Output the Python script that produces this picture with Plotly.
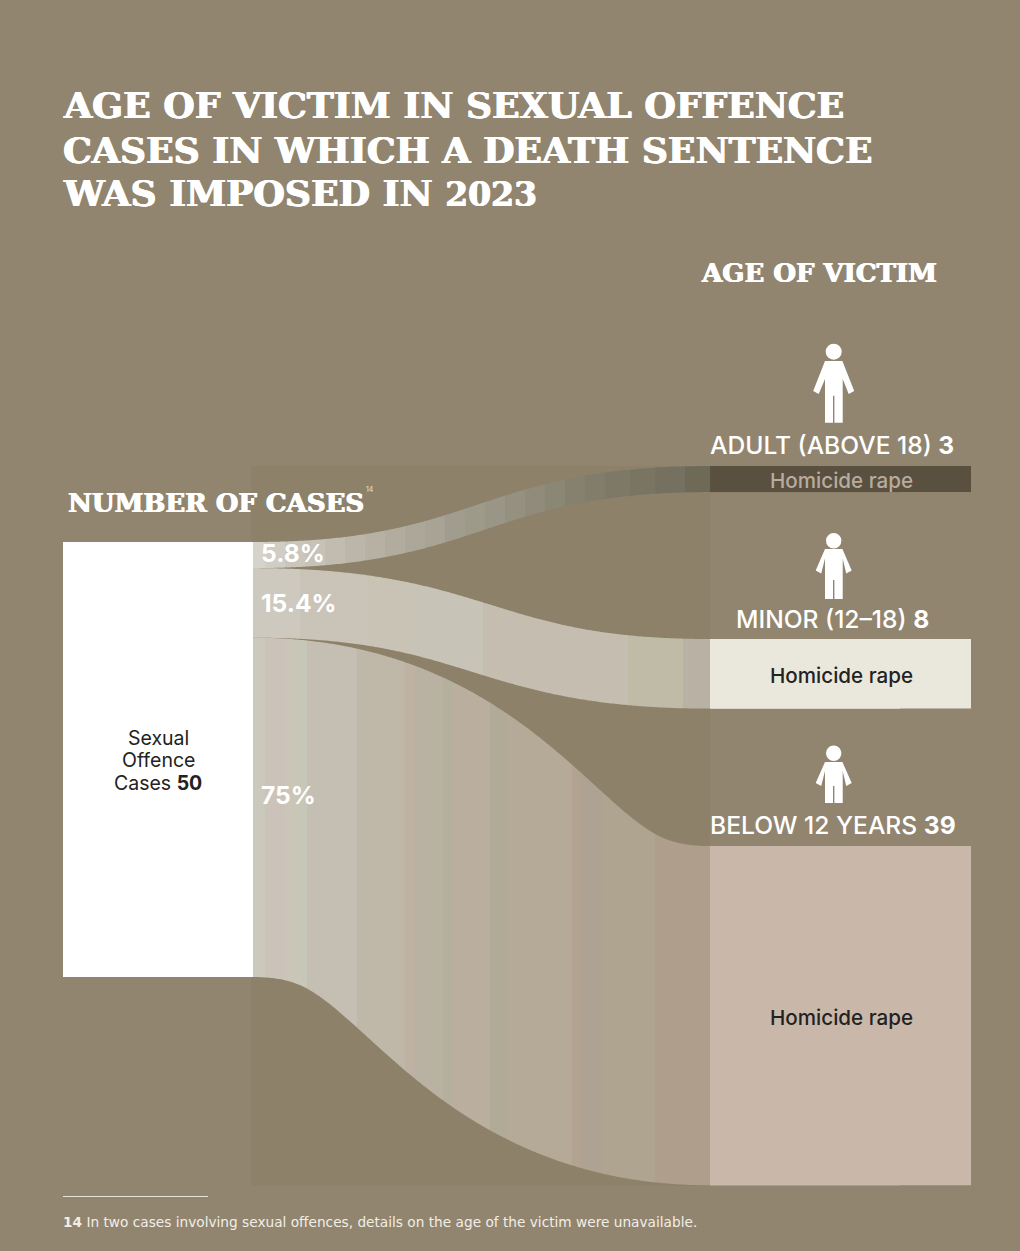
import numpy as np
import plotly.graph_objects as go

W, H = 1020, 1251

# ---- data ----
node_labels = ["Sexual Offence Cases", "Adult (above 18)", "Minor (12-18)", "Below 12 years"]
link_values = [3, 8, 39]
link_percent = ["5.8%", "15.4%", "75%"]
group_titles = ["ADULT (ABOVE 18) <b>3</b>", "MINOR (12–18) <b>8</b>", "BELOW 12 YEARS <b>39</b>"]
crime_label = "Homicide rape"
total_cases = sum(link_values)

# ---- style ----
BG = "#918570"
PANEL = "#8d8169"
NODE_COLORS = ["#ffffff", "#5a5040", "#eae7dc", "#c9b8aa"]
SERIF = "DejaVu Serif"
SANS = "Inter"

# pixel layout of the diagram
LEFT_X, LEFT_W = 63, 190
RIGHT_X, RIGHT_W = 710, 261
TOP, BOTTOM = 466, 1186
LEFT_TOP = 542
RIGHT_TOPS = [466, 639, 846]
PX_PER_CASE = (977 - 542) / total_cases

def px(x): return x / W
def py(y): return 1 - y / H

dom_x = [LEFT_X / W, (RIGHT_X + RIGHT_W) / W]
dom_w = RIGHT_X + RIGHT_W - LEFT_X
dom_h = BOTTOM - TOP
# the sankey positions a node by its centre
right_cx = (RIGHT_X + LEFT_W / 2 - LEFT_X) / dom_w
node_x = [(LEFT_W / 2) / dom_w, right_cx, right_cx, right_cx]
node_y = [(LEFT_TOP + total_cases * PX_PER_CASE / 2 - TOP) / dom_h] + \
         [(t + v * PX_PER_CASE / 2 - TOP) / dom_h for t, v in zip(RIGHT_TOPS, link_values)]

fig = go.Figure(go.Sankey(
    arrangement="fixed",
    domain=dict(x=dom_x, y=[py(BOTTOM), py(TOP)]),
    node=dict(label=[""] * 4, customdata=node_labels, x=node_x, y=node_y,
              thickness=LEFT_W, pad=(dom_h - total_cases * PX_PER_CASE) / 2,
              color=NODE_COLORS, line=dict(width=0), hoverinfo="skip"),
    link=dict(source=[0, 0, 0], target=[1, 2, 3], value=link_values,
              color=["rgba(0,0,0,0)"] * 3, hoverinfo="skip"),
))

shapes = []
# faint panel behind the flows
shapes.append(dict(type="rect", xref="paper", yref="paper", layer="below",
                   x0=px(251), x1=px(RIGHT_X), y0=py(BOTTOM), y1=py(TOP),
                   fillcolor=PANEL, line_width=0))
# right-hand boxes continue past the sankey node thickness
for i, (t, v) in enumerate(zip(RIGHT_TOPS, link_values)):
    shapes.append(dict(type="rect", xref="paper", yref="paper", layer="above",
                       x0=px(RIGHT_X), x1=px(RIGHT_X + RIGHT_W),
                       y0=py(t + v * PX_PER_CASE), y1=py(t),
                       fillcolor=NODE_COLORS[i + 1], line_width=0))

# banded shading of each flow: each flow is a band of constant thickness
# (value x scale) measured across a centre curve
stripes = [
    [(253, "#d6d3cb"), (265, "#d0cdc4"), (285, "#cac6bc"), (305, "#c6c2b7"), (325, "#c0bcb0"),
     (345, "#bbb6a9"), (365, "#b6b1a3"), (385, "#b1ac9e"), (405, "#aca899"), (425, "#a8a395"),
     (445, "#a19d8e"), (465, "#9d9a8a"), (485, "#999687"), (505, "#959180"), (525, "#908b7a"),
     (545, "#8b8775"), (565, "#86816f"), (585, "#827c6b"), (605, "#7e7867"), (630, "#7a7563"),
     (655, "#757060"), (685, "#6f6a56")],
    [(253, "#cdc9bf"), (300, "#cac3b8"), (367, "#c9c3b6"), (410, "#c7c4b7"), (483, "#c5bdaf"),
     (628, "#bfbba6"), (683, "#b9b1a3")],
    [(253, "#cbc8bc"), (265, "#cbc3b9"), (285, "#cac5b7"), (295, "#c7c7b7"), (307, "#c5beb3"),
     (357, "#bfb8a9"), (405, "#bfb2a3"), (415, "#b9b2a3"), (443, "#b5b09e"), (452, "#baaf9f"),
     (490, "#b0aa96"), (507, "#b5a997"), (572, "#b2a390"), (580, "#aea392"), (603, "#aea490"),
     (655, "#ae9e8b")],
]
x0, x1 = LEFT_X + LEFT_W, RIGHT_X
xm = (x0 + x1) / 2
t = np.linspace(0, 1, 1500)

def band_edges(yc0, yc1, half):
    cx = (1 - t) ** 3 * x0 + 3 * (1 - t) ** 2 * t * xm + 3 * (1 - t) * t ** 2 * xm + t ** 3 * x1
    cy = (1 - t) ** 3 * yc0 + 3 * (1 - t) ** 2 * t * yc0 + 3 * (1 - t) * t ** 2 * yc1 + t ** 3 * yc1
    dx = 3 * (1 - t) ** 2 * (xm - x0) + 3 * t ** 2 * (x1 - xm)
    dy = 6 * (1 - t) * t * (yc1 - yc0)
    n = np.hypot(dx, dy)
    nx, ny = -dy / n, dx / n
    return (cx - nx * half, cy - ny * half), (cx + nx * half, cy + ny * half)

cum = 0
for i, v in enumerate(link_values):
    h = v * PX_PER_CASE
    yc0 = LEFT_TOP + (cum + v / 2) * PX_PER_CASE
    yc1 = RIGHT_TOPS[i] + h / 2
    (ux, uy), (lx, ly) = band_edges(yc0, yc1, h / 2)
    bands = stripes[i]
    for j, (sx, col) in enumerate(bands):
        ex = bands[j + 1][0] if j + 1 < len(bands) else x1
        xs = np.arange(sx, ex + 0.01, 2.0)
        if xs[-1] < ex:
            xs = np.append(xs, ex)
        ty = np.interp(xs, ux, uy)
        by = np.interp(xs, lx, ly)
        pts = list(zip(xs, ty)) + list(zip(xs[::-1], by[::-1]))
        shapes.append(dict(type="path", xref="paper", yref="paper", layer="above",
                           path="M" + "L".join(f"{px(a):.5f},{py(b):.5f}" for a, b in pts) + "Z",
                           fillcolor=col, line_width=0))
    cum += v

# person pictograms
def person(cx, head_y, r, top, tip, crotch, bottom, reach):
    body = [(-8.7, top), (8.7, top), (reach, tip - 3), (reach - 5.5, tip), (9, tip - 15), (9, bottom),
            (0.7, bottom), (0.7, crotch), (-0.7, crotch), (-0.7, bottom), (-8.7, bottom), (-8.7, tip - 15),
            (-reach + 5.5, tip), (-reach, tip - 3)]
    path = "M" + "L".join(f"{px(cx + a):.5f},{py(b):.5f}" for a, b in body) + "Z"
    shapes.append(dict(type="path", xref="paper", yref="paper", layer="above", path=path,
                       fillcolor="#ffffff", line_width=0))
    shapes.append(dict(type="circle", xref="paper", yref="paper", layer="above",
                       x0=px(cx - r), x1=px(cx + r), y0=py(head_y + r), y1=py(head_y - r),
                       fillcolor="#ffffff", line_width=0))

person(833.7, 351.7, 8, 361, 394, 395.7, 422.7, 20.5)
person(833.7, 540.7, 7.7, 549, 573.5, 580, 599, 18)
person(833.7, 753.3, 7.7, 762, 786, 786, 803, 18)

# footnote rule
shapes.append(dict(type="line", xref="paper", yref="paper", x0=px(63), x1=px(208), y0=py(1196.5), y1=py(1196.5),
                   line=dict(color="#e6e2d8", width=1)))

HEAVY = "0.7px 0 0 #ffffff, -0.5px 0 0 #ffffff"

def note(text, x, y, size, color="#ffffff", family=SANS, anchor="left", weight=None, shadow=None):
    f = dict(size=size, color=color, family=family)
    if weight:
        f["weight"] = weight
    if shadow:
        f["shadow"] = shadow
    return dict(text=text, x=px(x), y=py(y), xref="paper", yref="paper", showarrow=False,
                xanchor=anchor, yanchor="middle", align="center" if anchor == "center" else "left",
                font=f, borderpad=0, borderwidth=0)

ann = []
for txt, y in [("AGE OF VICTIM IN SEXUAL OFFENCE", 106), ("CASES IN WHICH A DEATH SENTENCE", 150),
               ('WAS IMPOSED IN <span style="font-size:33px">2023</span>', 194)]:
    ann.append(note(f"<b>{txt}</b>", 63, y, 36.2, family=SERIF, shadow=HEAVY))
ann.append(note("<b>AGE OF VICTIM</b>", 701, 273, 26, family=SERIF, shadow=HEAVY))
ann.append(note("<b>NUMBER OF CASES</b>", 68, 503, 26, family=SERIF, shadow=HEAVY))
ann.append(note("14", 366, 489, 7, color="#e6e2d8"))
for txt, y in zip(link_percent, [553, 603, 795]):
    ann.append(note(f"<b>{txt}</b>", 261, y, 24.6))
for txt, cx, y in zip(group_titles, [832, 832, 833], [445, 619, 825]):
    ann.append(note(txt, cx, y, 24.6, anchor="center", weight=500))
for cy, col in zip([480, 675, 1017], ["#b9ac9e", "#222222", "#222222"]):
    ann.append(note(crime_label, 841, cy, 20.6, color=col, anchor="center", weight=500))
for txt, cy in zip(["Sexual", "Offence", f"Cases <b>{total_cases}</b>"], [737.5, 760, 782.5]):
    ann.append(note(txt, 158, cy, 19.5, color="#222222", anchor="center"))
ann.append(note("<b>14</b> In two cases involving sexual offences, details on the age of the victim were unavailable.",
                63, 1222, 13.7, color="#f1eee6", family="DejaVu Sans"))

fig.update_layout(width=W, height=H, margin=dict(l=0, r=0, t=0, b=0, pad=0),
                  paper_bgcolor=BG, plot_bgcolor=BG, shapes=shapes, annotations=ann, showlegend=False)
fig.write_html("out.html", config=dict(displayModeBar=False),
               post_script="document.body.style.margin='0';document.body.style.background='" + BG + "';")
